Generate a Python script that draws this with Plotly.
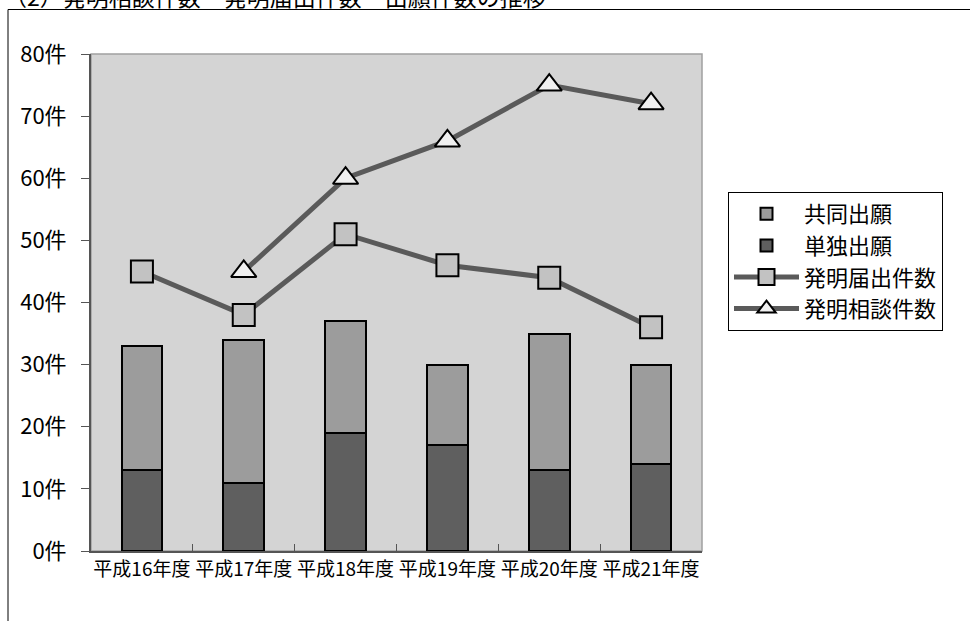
import plotly.graph_objects as go

# Fiscal years (Heisei era)
years = ["平成16年度", "平成17年度", "平成18年度", "平成19年度", "平成20年度", "平成21年度"]

# Patent applications, split into sole and joint filings
sole_apps = [13, 11, 19, 17, 13, 14]
joint_apps = [20, 23, 18, 13, 22, 16]

# Invention disclosures and invention consultations
disclosures = [45, 38, 51, 46, 44, 36]
consultations = [None, 45, 60, 66, 75, 72]

y_ticks = [0, 10, 20, 30, 40, 50, 60, 70, 80]
y_tick_text = [f"{v}件" for v in y_ticks]

FONT = "Noto Sans CJK JP, Noto Sans, sans-serif"

fig = go.Figure()

fig.add_trace(go.Bar(
    x=years, y=sole_apps, name="単独出願", legendrank=2,
    marker=dict(color="#5f5f5f", line=dict(color="#000000", width=2)),
))
fig.add_trace(go.Bar(
    x=years, y=joint_apps, name="共同出願", legendrank=1,
    marker=dict(color="#9c9c9c", line=dict(color="#000000", width=2)),
))
fig.add_trace(go.Scatter(
    x=years, y=disclosures, name="発明届出件数", legendrank=3,
    mode="lines+markers",
    line=dict(color="#5a5a5a", width=5),
    marker=dict(symbol="square", size=22, color="#c2c2c2",
                line=dict(color="#000000", width=2)),
))
fig.add_trace(go.Scatter(
    x=years, y=consultations, name="発明相談件数", legendrank=4,
    mode="lines+markers", connectgaps=False,
    line=dict(color="#5a5a5a", width=5),
    marker=dict(symbol="triangle-up", size=22, color="#f0f0f0",
                line=dict(color="#000000", width=2)),
))

# plot-area geometry in pixels (for converting frame positions to paper units)
L, R, T, B, W, H = 91, 268, 54, 70, 970, 621
pw, ph = W - L - R, H - T - B


def px_x(px):
    return (px - L) / pw


def px_y(py):
    return (H - B - py) / ph


fig.update_layout(
    width=W, height=H,
    margin=dict(l=L, r=R, t=T, b=B, pad=0),
    paper_bgcolor="#ffffff",
    plot_bgcolor="#d4d4d4",
    barmode="stack",
    bargap=0.6,
    font=dict(family=FONT, color="#000000"),
    showlegend=True,
    legend=dict(
        x=px_x(728), y=px_y(192), xanchor="left", yanchor="top",
        bgcolor="#ffffff", bordercolor="#000000", borderwidth=1,
        font=dict(size=22, family=FONT),
        itemwidth=65,
        traceorder="normal",
    ),
    xaxis=dict(
        type="category",
        showgrid=False,
        showline=True, linecolor="#555555", linewidth=2,
        ticks="inside", tickson="boundaries", ticklen=7,
        tickcolor="#555555", tickwidth=1,
        tickangle=0,
        tickfont=dict(size=19, family=FONT),
        automargin=False,
        fixedrange=True,
    ),
    yaxis=dict(
        range=[0, 80],
        tickvals=y_ticks, ticktext=y_tick_text,
        showgrid=False, zeroline=False,
        showline=True, linecolor="#555555", linewidth=2,
        ticks="outside", ticklen=8, tickcolor="#555555", tickwidth=1,
        ticklabelstandoff=10,
        tickfont=dict(size=22, family=FONT),
        automargin=False,
        fixedrange=True,
    ),
    shapes=[
        # light border around the plot area
        dict(type="rect", xref="paper", yref="paper", x0=0, x1=1, y0=0, y1=1,
             line=dict(color="#a0a0a0", width=1.5), layer="below"),
        # outer chart frame (extends past the page edges)
        dict(type="rect", xref="paper", yref="paper",
             x0=px_x(8), x1=px_x(1100), y0=px_y(800), y1=px_y(9.5),
             line=dict(color="#000000", width=1)),
    ],
    annotations=[
        dict(text="（2）発明相談件数・発明届出件数・出願件数の推移",
             xref="paper", yref="paper", x=px_x(2), y=px_y(-4),
             xanchor="left", yanchor="middle", showarrow=False,
             font=dict(size=23, family=FONT, color="#000000")),
    ],
)

fig.write_html("out.html")
